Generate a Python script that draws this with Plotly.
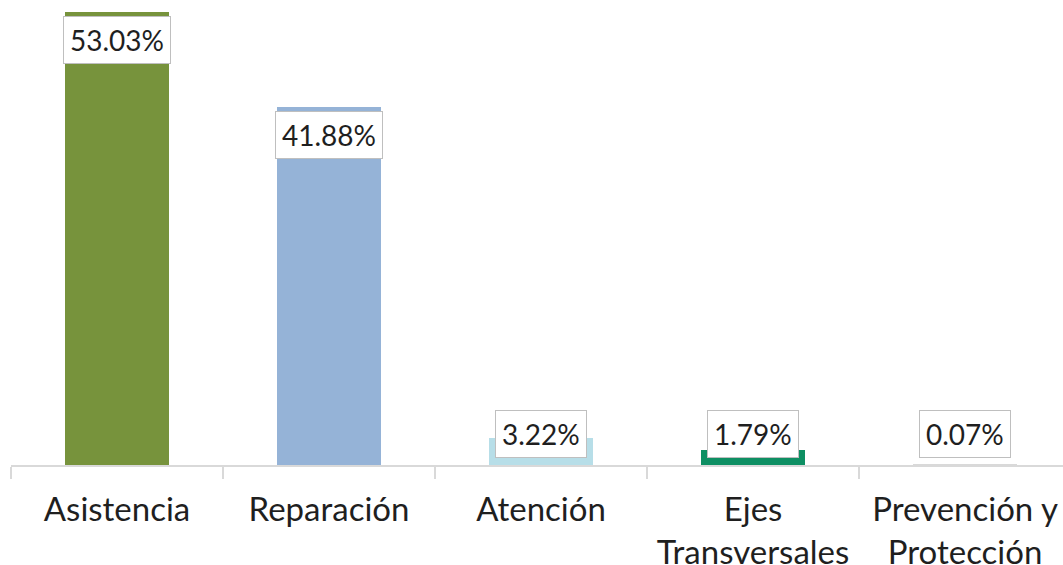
import plotly.graph_objects as go

categories = ["Asistencia", "Reparación", "Atención", "Ejes<br>Transversales", "Prevención y<br>Protección"]
values = [53.03, 41.88, 3.22, 1.79, 0.07]
labels = ["53.03%", "41.88%", "3.22%", "1.79%", "0.07%"]
colors = ["#77933C", "#95B3D7", "#B7DEE8", "#0E8F63", "#D9D9D9"]

FONT = "Lato, 'Open Sans', sans-serif"

fig = go.Figure()
fig.add_trace(go.Bar(
    x=categories, y=values,
    marker=dict(color=colors, line=dict(width=0)),
    width=0.49, hoverinfo="skip",
))

annotations = []
for cat, v, lab in zip(categories, values, labels):
    common = dict(x=cat, text=lab, showarrow=False,
                  font=dict(family=FONT, size=28, color="#1F1F1F"),
                  bgcolor="white", bordercolor="#BFBFBF", borderwidth=1, borderpad=6)
    if v > 10:
        annotations.append(dict(y=v, yanchor="top", yshift=-4, **common))
    else:
        annotations.append(dict(y=0, yanchor="bottom", yshift=7, **common))

fig.update_layout(
    width=1063, height=565,
    margin=dict(l=11, r=0, t=0, b=100),
    paper_bgcolor="white", plot_bgcolor="white",
    showlegend=False,
    annotations=annotations,
    bargap=0,
)
fig.update_xaxes(
    type="category", range=[-0.5, 4.462], automargin=False,
    ticks="outside", tickson="boundaries", ticklen=12, tickcolor="#D9D9D9", tickwidth=1.5,
    showline=True, linecolor="#D9D9D9", linewidth=1.5,
    showgrid=False, zeroline=False,
    tickfont=dict(family=FONT, size=33, color="#1F1F1F"),
    ticklabelstandoff=15,
)
fig.update_yaxes(range=[0, 54.45], visible=False, showgrid=False, zeroline=False, automargin=False)

fig.write_html("out.html", config={"displayModeBar": False},
               post_script="document.body.style.margin='0';")
